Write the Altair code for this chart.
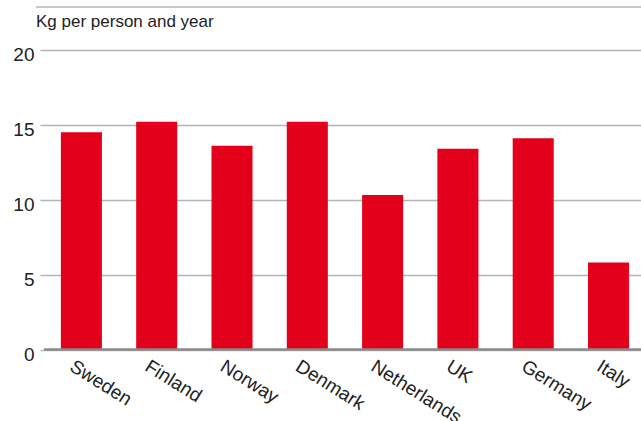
import altair as alt
import pandas as pd

countries = ["Sweden", "Finland", "Norway", "Denmark", "Netherlands", "UK", "Germany", "Italy"]
values = [14.5, 15.2, 13.6, 15.2, 10.3, 13.4, 14.1, 5.8]
y_ticks = [0, 5, 10, 15, 20]
unit_label = "Kg per person and year"

df = pd.DataFrame({"country": countries, "value": values})

FONT = "Liberation Sans"
W, H = 601, 342.5
YMAX = 22.85

x = alt.X("country:N", sort=countries,
          scale=alt.Scale(paddingInner=0.455, paddingOuter=0.218, align=0.636),
          axis=alt.Axis(title=None, labelAngle=32, labelAlign="left", labelBaseline="top",
                        labelFont=FONT, labelFontSize=19, labelColor="#222222",
                        domain=False, ticks=False, labelPadding=7, labelOffset=-5))
y = alt.Y("value:Q", scale=alt.Scale(domain=[0, YMAX], nice=False),
          axis=alt.Axis(title=None, values=y_ticks, grid=True, gridColor="#b4b4b4", gridWidth=1.5,
                        domain=False, ticks=False, labelFont=FONT, labelFontSize=19,
                        labelColor="#222222", labelPadding=6, labelBaseline="middle",
                        labelOffset=5))

bars = alt.Chart(df).mark_bar(color="#e2001a").encode(x=x, y=y)

zero = alt.Chart(pd.DataFrame({"v": [0]})).mark_rule(color="#8a8a8a", strokeWidth=2.5).encode(
    y=alt.Y("v:Q", scale=alt.Scale(domain=[0, YMAX], nice=False)),
    x=alt.value(4), x2=alt.value(W))

top = alt.Chart(pd.DataFrame({"v": [0]})).mark_rule(color="#b4b4b4", strokeWidth=1.5).encode(
    x=alt.value(-4), x2=alt.value(W), y=alt.value(0))

label = alt.Chart(pd.DataFrame({"t": [unit_label]})).mark_text(
    align="left", baseline="middle", font=FONT, fontSize=17, color="#222222").encode(
    x=alt.value(-4), y=alt.value(15), text="t:N")

chart = alt.layer(bars, zero, top, label).properties(
    width=W, height=H, autosize=alt.AutoSizeParams(type="none"),
    padding={"left": 40, "top": 7, "right": 0, "bottom": 72}
).configure_view(stroke=None)

chart.save("out.html", embed_options={"renderer": "svg", "actions": False})
